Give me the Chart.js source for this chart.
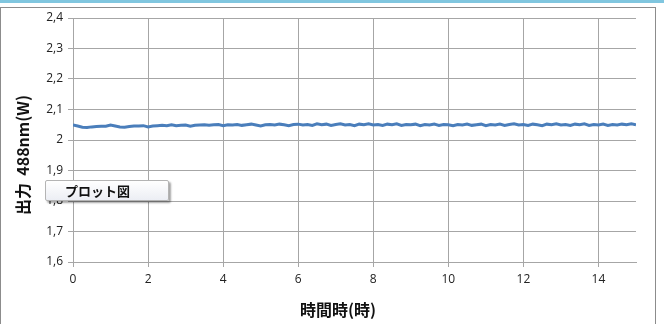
<!DOCTYPE html>
<html>
<head>
<meta charset="utf-8">
<script src="https://cdn.jsdelivr.net/npm/chart.js@4"></script>
<style>
  body { margin: 0; background: #fff; }
  #wrap { position: relative; width: 664px; height: 324px; overflow: hidden; }
  #band { position: absolute; left: 0; top: 0; width: 664px; height: 3px; background: #80c6df; }
  #frame { position: absolute; left: 0; top: 7px; width: 656px; height: 330px; border: 1px solid #8c8c8c; box-sizing: border-box; }
  #chart { position: absolute; left: 0; top: 0; }
  .axisTitle { position: absolute; font: bold 16px "Noto Sans CJK JP", sans-serif; color: #111; white-space: nowrap; }
  #xTitle { left: 338px; top: 309px; transform: translate(-50%, -50%); }
  #yTitle { left: 22px; top: 155px; transform: translate(-50%, -50%) rotate(-90deg); }
  #plotBtn {
    position: absolute; left: 45px; top: 180px; width: 124px; height: 21px;
    box-sizing: border-box; border: 1px solid #b4b4b4; border-radius: 2px;
    background: linear-gradient(#ffffff, #eceef4);
    box-shadow: 2px 2px 2px rgba(0,0,0,0.35);
    font: bold 13px "Noto Sans CJK JP", sans-serif; color: #111;
    padding-left: 19px; line-height: 19px;
  }
</style>
</head>
<body>
<div id="wrap">
  <div id="band"></div>
  <div id="frame"></div>
  <canvas id="chart" width="664" height="324"></canvas>
  <div class="axisTitle" id="xTitle">時間時(時)</div>
  <div class="axisTitle" id="yTitle">出力&nbsp;&nbsp;488nm(W)</div>
  <div id="plotBtn">プロット図</div>
</div>
<script>
// 時間 (h)
const hours = [
  0, 0.125, 0.25, 0.375, 0.5, 0.625, 0.75, 0.875,
  1, 1.125, 1.25, 1.375, 1.5, 1.625, 1.75, 1.875,
  2, 2.125, 2.25, 2.375, 2.5, 2.625, 2.75, 2.875,
  3, 3.125, 3.25, 3.375, 3.5, 3.625, 3.75, 3.875,
  4, 4.125, 4.25, 4.375, 4.5, 4.625, 4.75, 4.875,
  5, 5.125, 5.25, 5.375, 5.5, 5.625, 5.75, 5.875,
  6, 6.125, 6.25, 6.375, 6.5, 6.625, 6.75, 6.875,
  7, 7.125, 7.25, 7.375, 7.5, 7.625, 7.75, 7.875,
  8, 8.125, 8.25, 8.375, 8.5, 8.625, 8.75, 8.875,
  9, 9.125, 9.25, 9.375, 9.5, 9.625, 9.75, 9.875,
  10, 10.125, 10.25, 10.375, 10.5, 10.625, 10.75, 10.875,
  11, 11.125, 11.25, 11.375, 11.5, 11.625, 11.75, 11.875,
  12, 12.125, 12.25, 12.375, 12.5, 12.625, 12.75, 12.875,
  13, 13.125, 13.25, 13.375, 13.5, 13.625, 13.75, 13.875,
  14, 14.125, 14.25, 14.375, 14.5, 14.625, 14.75, 14.875,
  15
];

// 出力 488nm (W)
const power = [
  2.049, 2.046, 2.042, 2.041, 2.043, 2.044, 2.045, 2.045,
  2.049, 2.046, 2.043, 2.042, 2.044, 2.046, 2.046, 2.047,
  2.043, 2.046, 2.047, 2.048, 2.047, 2.050, 2.047, 2.048,
  2.049, 2.045, 2.048, 2.049, 2.050, 2.048, 2.050, 2.051,
  2.047, 2.050, 2.049, 2.051, 2.048, 2.050, 2.052, 2.049,
  2.046, 2.050, 2.051, 2.049, 2.052, 2.050, 2.047, 2.051,
  2.052, 2.049, 2.051, 2.048, 2.053, 2.050, 2.052, 2.048,
  2.051, 2.053, 2.049, 2.051, 2.047, 2.052, 2.050, 2.053,
  2.049, 2.051, 2.048, 2.052, 2.050, 2.053, 2.048, 2.051,
  2.050, 2.052, 2.047, 2.051, 2.049, 2.052, 2.048, 2.051,
  2.050, 2.047, 2.051, 2.049, 2.052, 2.048, 2.050, 2.052,
  2.047, 2.051, 2.049, 2.052, 2.048, 2.051, 2.053, 2.049,
  2.051, 2.048, 2.052, 2.050, 2.047, 2.052, 2.050, 2.053,
  2.049, 2.051, 2.048, 2.052, 2.050, 2.053, 2.048, 2.051,
  2.049, 2.052, 2.048, 2.051, 2.049, 2.052, 2.050, 2.053,
  2.050
];

const xTicks = [0, 2, 4, 6, 8, 10, 12, 14];
const xTickLabels = ["0", "2", "4", "6", "8", "10", "12", "14"];
const yTicks = [1.6, 1.7, 1.8, 1.9, 2.0, 2.1, 2.2, 2.3, 2.4];
const yTickLabels = ["1,6", "1,7", "1,8", "1,9", "2", "2,1", "2,2", "2,3", "2,4"];

const gridColor = "#a6a6a6";
const tickFont = { family: "'Open Sans', 'Noto Sans', sans-serif", size: 12 };

function labelFor(value, ticks, labels) {
  const i = ticks.findIndex(t => Math.abs(t - value) < 1e-6);
  return i >= 0 ? labels[i] : "";
}

const ctx = document.getElementById("chart").getContext("2d");

new Chart(ctx, {
  type: "line",
  data: {
    datasets: [{
      label: "出力",
      data: hours.map((h, i) => ({ x: h, y: power[i] })),
      borderColor: "#4a7ebb",
      borderWidth: 3,
      pointRadius: 0,
      tension: 0,
      fill: false
    }]
  },
  options: {
    responsive: false,
    animation: false,
    layout: { padding: { left: 0, top: 18, right: 28, bottom: 0 } },
    plugins: {
      legend: { display: false },
      tooltip: { enabled: false }
    },
    scales: {
      x: {
        type: "linear",
        min: 0,
        max: 15,
        afterFit: scale => { scale.height = 62; },
        afterBuildTicks: scale => { scale.ticks = xTicks.map(v => ({ value: v })); },
        ticks: {
          color: "#222",
          font: tickFont,
          padding: 5,
          maxRotation: 0,
          callback: v => labelFor(v, xTicks, xTickLabels)
        },
        grid: { color: gridColor, tickLength: 5 },
        border: { color: gridColor }
      },
      y: {
        min: 1.6,
        max: 2.4,
        afterFit: scale => { scale.width = 73; },
        afterBuildTicks: scale => { scale.ticks = yTicks.map(v => ({ value: v })); },
        ticks: {
          color: "#222",
          font: tickFont,
          padding: 5,
          callback: v => labelFor(v, yTicks, yTickLabels)
        },
        grid: { color: gridColor, tickLength: 5 },
        border: { color: gridColor }
      }
    }
  }
});
</script>
</body>
</html>
